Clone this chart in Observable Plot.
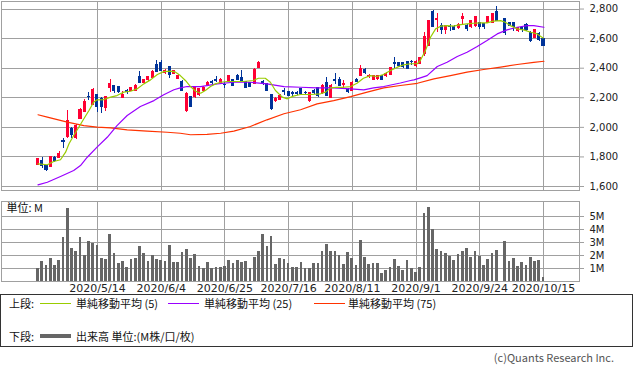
<!DOCTYPE html>
<html><head><meta charset="utf-8">
<script src="https://cdn.jsdelivr.net/npm/d3@7"></script>
<script src="https://cdn.jsdelivr.net/npm/@observablehq/plot@0.6"></script>
<style>
html,body{margin:0;padding:0;background:#fff;}
#wrap{position:relative;width:633px;height:374px;overflow:hidden;font-family:"Noto Sans CJK JP",sans-serif;}
#price,#vol{position:absolute;left:0;}
#price{top:0;}
#vol{top:195px;}
#legend{position:absolute;left:0;top:294px;width:631px;height:51px;border:1px solid #333;}
.lg{position:absolute;font-size:11px;line-height:12px;color:#111;white-space:nowrap;}
.sw{position:absolute;}
#copy{position:absolute;right:19px;top:351px;font-size:11px;line-height:12px;color:#555;white-space:nowrap;}
</style></head><body>
<div id="wrap">
  <div id="price"></div>
  <div id="vol"></div>
  <div id="legend"></div>
  <div id="copy"></div>
</div>
<script>
// ---- data ----
const tickIdx = [14, 29, 44, 59, 74, 89, 104, 119];
const tickLabels = ["2020/5/14", "2020/6/4", "2020/6/25", "2020/7/16", "2020/8/11", "2020/9/1", "2020/9/24", "2020/10/15"];
const priceTicks = [1600, 1800, 2000, 2200, 2400, 2600, 2800];
const volTicks = [1, 2, 3, 4, 5];

const opens = [1748,1771,1742,1735,1790,1795,1905,1933,1990,1929,
  2058,2107,2206,2154,2220,2193,2132,2267,2283,2271,
  2200,2249,2249,2249,2339,2298,2317,2335,2423,2438,
  2366,2407,2362,2330,2310,2109,2204,2204,2220,2244,
  2285,2310,2318,2298,2287,2305,2317,2344,2335,2310,
  2298,2294,2400,2310,2290,2222,2177,2186,2244,2238,
  2230,2231,2260,2232,2181,2249,2264,2231,2298,2200,
  2318,2323,2289,2254,2249,2323,2350,2391,2339,2321,
  2328,2344,2344,2357,2432,2436,2436,2440,2443,2413,
  2430,2497,2553,2778,2725,2688,2659,2680,2677,2673,
  2730,2688,2677,2682,2704,2697,2704,2704,2778,null,
  2734,2704,2704,2650,2673,2695,2639,2605,2632,2598];
const closes = [1787,1742,1710,1800,1772,1823,1898,2040,1945,2010,
  2114,2170,2203,2254,2141,2141,2204,2290,2249,2238,
  2220,2236,2267,2283,2303,2317,2339,2377,2373,2380,
  2384,2357,2380,2350,2244,2227,2141,2264,2260,2267,
  2303,2303,2315,2317,2284,2344,2283,2321,2305,2267,
  2276,2389,2434,2294,2244,2125,2195,2215,2240,2215,
  2226,2227,2227,2229,2231,2231,2215,2283,2215,2283,
  2315,2283,2292,2238,2301,2305,2395,2366,2350,2344,
  2344,2321,2362,2400,2428,2413,2405,2395,2440,2442,
  2470,2614,2718,2677,2732,2659,2688,2676,2659,2695,
  2748,2666,2718,2749,2677,2677,2744,2767,2722,null,
  2636,2688,2677,2673,2655,2659,2587,2655,2592,2553];
const highs = [1790,1798,1745,1805,1800,1840,1927,2114,2000,2020,
  2125,2190,2238,2265,2222,2200,2210,2322,2285,2275,
  2240,2255,2270,2290,2378,2325,2345,2385,2450,2450,
  2390,2410,2385,2355,2315,2235,2210,2270,2265,2275,
  2310,2320,2345,2330,2300,2350,2320,2360,2385,2312,
  2300,2395,2447,2320,2295,2225,2200,2220,2265,2245,
  2245,2240,2265,2245,2235,2255,2268,2290,2340,2290,
  2366,2335,2320,2260,2310,2330,2420,2395,2355,2350,
  2350,2350,2368,2405,2470,2440,2440,2445,2450,2450,
  2475,2640,2720,2790,2767,2700,2690,2695,2690,2700,
  2770,2695,2722,2752,2712,2700,2748,2770,2817,null,
  2736,2710,2712,2678,2680,2700,2645,2660,2640,2600];
const lows = [1740,1720,1703,1730,1765,1790,1855,1925,1925,1920,
  2050,2100,2181,2145,2102,2093,2110,2238,2230,2230,
  2195,2225,2240,2240,2300,2290,2310,2330,2370,2375,
  2360,2330,2355,2325,2240,2100,2135,2195,2210,2235,
  2278,2290,2300,2290,2262,2300,2275,2318,2300,2262,
  2270,2290,2395,2285,2240,2115,2170,2180,2215,2210,
  2205,2218,2215,2215,2165,2225,2205,2225,2210,2195,
  2290,2278,2265,2232,2245,2300,2345,2360,2330,2315,
  2320,2315,2340,2350,2396,2405,2400,2390,2420,2405,
  2425,2480,2545,2672,2643,2630,2625,2650,2655,2665,
  2695,2650,2670,2675,2665,2660,2700,2700,2715,null,
  2620,2680,2645,2640,2640,2650,2575,2600,2580,2545];
// volume, millions
const volumes = [0.97,1.54,1.23,1.79,1.23,1.62,3.38,5.64,2.56,2.31,
  3.38,2.0,3.08,2.92,2.77,1.79,1.69,3.62,2.13,1.36,
  1.54,1.10,1.69,1.79,2.69,2.13,1.54,2.0,1.69,1.62,
  1.54,2.77,1.49,1.49,2.21,2.46,1.79,2.05,1.18,0.97,
  1.44,0.97,1.10,1.10,1.18,1.62,1.36,1.62,1.49,1.54,
  0.97,1.87,2.31,3.62,2.69,3.49,1.31,1.79,1.69,1.41,
  1.08,1.08,1.49,0.97,0.97,1.36,1.36,2.31,2.82,2.31,
  2.31,2.0,1.28,2.21,1.79,1.23,3.15,1.87,1.31,1.36,
  1.36,0.59,0.85,1.10,1.69,1.15,0.85,1.62,1.03,0.67,
  1.10,5.21,5.67,4.0,2.46,2.31,2.18,1.92,1.62,2.05,
  2.31,2.56,1.87,2.31,1.92,1.23,1.69,2.13,2.38,null,
  3.08,1.54,1.79,1.18,1.49,1.23,1.87,1.54,1.62,0.33];

// moving averages (day position, value)
const ma5Pos = [0,2.2,3.7,5.3,6.5,7.3,8.4,9.6,10.8,12,13.1,13.9,15.5,17.1,18.6,20.2,21.8,23.3,24.9,26.5,28.1,29.6,31.2,32.4,33.5,34.7,35.9,37.1,38.3,39.4,40.6,41.8,43,44.5,46,48.3,50.7,51.9,53.5,54.7,55.9,57.5,58.7,60.1,61.8,64.2,66.5,67.7,68.9,70.4,71.9,73.6,75.1,76.6,78.3,79.8,81.3,83,84.6,86.1,87.7,89.3,90,91.2,92.4,93.6,94.8,96.3,97.8,99.5,101,102.5,104.2,105.7,107.2,108.9,110,111.2,112.8,114.3,116,117.5,118.9];
const ma5Val = [1753,1747,1769,1781,1832,1889,1945,2001,2058,2114,2170,2186,2188,2204,2215,2238,2244,2260,2294,2321,2357,2377,2380,2373,2350,2317,2276,2244,2231,2249,2276,2294,2305,2310,2310,2310,2317,2332,2332,2305,2249,2204,2193,2211,2222,2222,2227,2238,2267,2271,2271,2276,2298,2332,2350,2344,2357,2384,2407,2423,2430,2430,2452,2519,2609,2666,2684,2688,2684,2695,2700,2704,2707,2707,2718,2722,2711,2688,2666,2659,2643,2632,2605];
const ma25Pos = [0,2.2,5.3,8.4,10,11.6,13.9,16.3,18.6,21,24.1,27.3,29.6,32,33.5,35.1,38.3,42.2,46,50,53.9,57.9,61.8,65.7,69.6,73.6,76.7,79,81.4,85.3,87.7,88.5,90,91.6,94,96.3,98.7,101,103.4,105.7,108.1,110.4,112.8,115.2,116.7,119.1];
const ma25Val = [1611,1629,1668,1708,1742,1798,1866,1933,2012,2080,2141,2181,2220,2254,2267,2276,2276,2294,2305,2305,2294,2276,2271,2267,2267,2260,2254,2267,2276,2300,2317,2321,2335,2350,2411,2440,2479,2508,2547,2587,2632,2659,2677,2688,2688,2677];
const ma75Pos = [0,2.2,6.9,10.8,13.9,17.1,21,25.7,30.4,33.5,35.9,39.8,43,46.1,50,53.9,57.9,61.8,65.7,69.6,73.6,77.5,81.4,85.3,89.3,93.2,97.1,101,104.9,108.9,112.8,116.7,119.1];
const ma75Val = [2085,2069,2035,2012,2001,1997,1983,1974,1967,1960,1950,1952,1960,1974,2006,2051,2092,2119,2159,2181,2208,2238,2267,2283,2298,2328,2350,2373,2391,2407,2425,2440,2447];

const unitLabel = ["単位: M"];
const maLabels = ["単純移動平均 (5)", "単純移動平均 (25)", "単純移動平均 (75)"];
const volLabel = "出来高 単位:(M株/口/枚)";
const rowLabels = ["上段:", "下段:"];
const credit = "(c)Quants Research Inc.";

// ---- styles ----
const RED = "#ff0033", BLUE = "#003399", GRID = "#a0a0a0", VOL = "#666666";
const MA_COLORS = ["#99cc00", "#9900ff", "#ff3300"];
const xDomain = [-8.59, 127.47];

const rows = opens.map((o, i) => ({i, open: o, high: highs[i], low: lows[i], close: closes[i], vol: volumes[i]}))
  .filter(d => d.open != null);
const col = d => d.close >= d.open ? RED : BLUE;
const toLine = (p, v) => p.map((x, k) => ({x, y: v[k]}));

const axisStyle = {fontFamily: "DejaVu Sans", fontSize: "10px", color: "#222", background: "transparent", overflow: "visible"};

const pricePlot = Plot.plot({
  width: 633, height: 191, marginLeft: 1, marginRight: 54, marginTop: 1, marginBottom: 1,
  style: axisStyle,
  x: {domain: xDomain, axis: null},
  y: {domain: [1573, 2851], axis: null},
  marks: [
    Plot.ruleY(priceTicks, {stroke: GRID, shapeRendering: "crispEdges"}),
    Plot.ruleX(tickIdx, {stroke: GRID, shapeRendering: "crispEdges"}),
    Plot.frame({stroke: GRID, shapeRendering: "crispEdges"}),
    Plot.axisY(priceTicks, {anchor: "right", tickSize: 4, tickPadding: 6, tickFormat: d3.format(","), label: null, stroke: GRID, fill: "#222", fontSize: 10}),
    Plot.ruleX(rows, {x: "i", y1: "low", y2: "high", stroke: col, shapeRendering: "crispEdges"}),
    Plot.rect(rows, {x1: d => d.i - 0.36, x2: d => d.i + 0.36, y1: "open", y2: "close", fill: col, insetTop: -0.5, insetBottom: -0.5, shapeRendering: "crispEdges"}),
    Plot.line(toLine(ma75Pos, ma75Val), {x: "x", y: "y", stroke: MA_COLORS[2], strokeWidth: 1.2}),
    Plot.line(toLine(ma25Pos, ma25Val), {x: "x", y: "y", stroke: MA_COLORS[1], strokeWidth: 1.2}),
    Plot.line(toLine(ma5Pos, ma5Val), {x: "x", y: "y", stroke: MA_COLORS[0], strokeWidth: 1.2})
  ]
});
document.getElementById("price").appendChild(pricePlot);

const volPlot = Plot.plot({
  width: 633, height: 100, marginLeft: 1, marginRight: 54, marginTop: 6, marginBottom: 14,
  style: axisStyle,
  x: {domain: xDomain, axis: null},
  y: {domain: [0, 6.154], axis: null},
  marks: [
    Plot.ruleY(volTicks, {stroke: GRID, shapeRendering: "crispEdges"}),
    Plot.ruleX(tickIdx, {stroke: GRID, shapeRendering: "crispEdges"}),
    Plot.rectY(rows, {x1: d => d.i - 0.32, x2: d => d.i + 0.32, y: "vol", fill: VOL, shapeRendering: "crispEdges"}),
    Plot.frame({stroke: GRID, shapeRendering: "crispEdges"}),
    Plot.axisY(volTicks, {anchor: "right", tickSize: 4, tickPadding: 6, tickFormat: d => d + "M", label: null, stroke: GRID, fill: "#222", fontSize: 10}),
    Plot.axisX(tickIdx, {anchor: "bottom", tickSize: 0, tickPadding: 3, tickFormat: d => tickLabels[tickIdx.indexOf(d)], label: null, fill: "#222", fontSize: 11}),
    Plot.text(unitLabel, {frameAnchor: "top-left", dx: 5, dy: 3, lineAnchor: "top", textAnchor: "start", fontFamily: "Noto Sans CJK JP", fontSize: 11, fill: "#111"})
  ]
});
document.getElementById("vol").appendChild(volPlot);

// ---- legend (HTML, below the charts) ----
const lg = document.getElementById("legend");
function addText(txt, left, top) {
  const s = document.createElement("div"); s.className = "lg"; s.textContent = txt;
  s.style.left = left + "px"; s.style.top = top + "px"; lg.appendChild(s);
}
function addSwatch(color, left, top, w, h) {
  const s = document.createElement("div"); s.className = "sw";
  Object.assign(s.style, {left: left + "px", top: top + "px", width: w + "px", height: h + "px", background: color});
  lg.appendChild(s);
}
// coordinates relative to the legend box (top-left at 0,294 inside the border)
addText(rowLabels[0], 8, 2);
const swX = [39, 167, 313], txX = [75, 203, 347];
maLabels.forEach((t, k) => { addSwatch(MA_COLORS[k], swX[k], 8, 31, 1); addText(t, txX[k], 2); });
addText(rowLabels[1], 8, 35);
addSwatch(VOL, 39, 39, 31, 4);
addText(volLabel, 75, 35);
document.getElementById("copy").textContent = credit;
</script>
</body></html>
